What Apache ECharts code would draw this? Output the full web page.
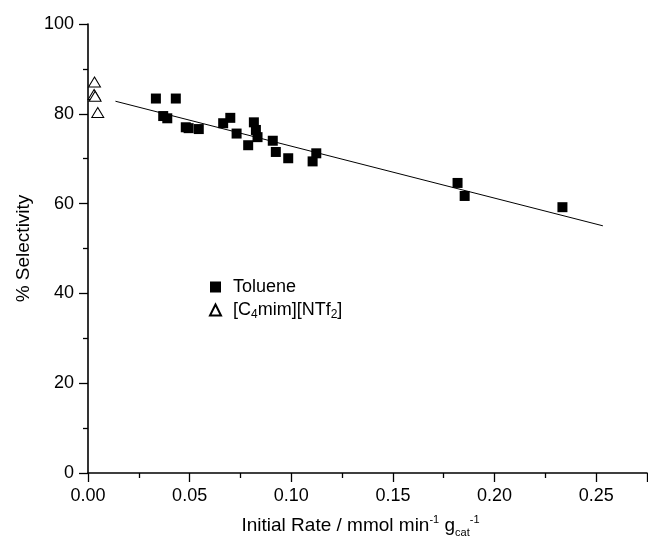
<!DOCTYPE html>
<html>
<head>
<meta charset="utf-8">
<script src="https://cdn.jsdelivr.net/npm/echarts@6/dist/echarts.min.js"></script>
<style>
  html, body { margin: 0; padding: 0; background: #fff; }
  #chart { width: 648px; height: 551px; }
</style>
</head>
<body>
<div id="chart"></div>
<script>
// Toluene runs: initial rate vs selectivity
const tolueneRate = [0.0334, 0.0432, 0.0370, 0.0390, 0.0481, 0.0495, 0.0545, 0.0665, 0.0700, 0.0731, 0.0788,
    0.0816, 0.0826, 0.0834, 0.0909, 0.0924, 0.0985, 0.1105, 0.1123, 0.1818, 0.1853, 0.2334];
const tolueneSel = [83.4, 83.4, 79.5, 79.0, 77.0, 76.8, 76.6, 77.9, 79.1, 75.6, 73.0,
    78.1, 76.4, 74.8, 74.0, 71.5, 70.1, 69.4, 71.2, 64.6, 61.7, 59.2];
// ionic liquid runs
const ilRate = [0.0032, 0.0030, 0.0035, 0.0048];
const ilSel = [87.1, 84.3, 83.9, 80.3];
// linear fit end points
const fitX = [0.0135, 0.2533];
const fitY = [82.8, 55.05];

const xTicks = { min: 0, max: 0.275, interval: 0.05 };
const yTicks = { min: 0, max: 100, interval: 20 };

const chart = echarts.init(document.getElementById('chart'));
const font = 'Liberation Sans, Arial, sans-serif';

const zip = (xs, ys) => xs.map((x, i) => [x, ys[i]]);

const axisCommon = {
    axisLine: { show: true, onZero: false, lineStyle: { color: '#000', width: 1.6 } },
    axisTick: { show: true, inside: false, length: 9, lineStyle: { color: '#000', width: 1.3 } },
    minorTick: { show: true, splitNumber: 2, length: 5, lineStyle: { color: '#000', width: 1.3 } },
    splitLine: { show: false },
    axisLabel: { color: '#000', fontSize: 18, fontFamily: font }
};

chart.setOption({
    animation: false,
    backgroundColor: '#fff',
    grid: { left: 88, right: 1, top: 24, bottom: 78 },
    legend: {
        orient: 'vertical',
        left: 204,
        top: 273,
        itemWidth: 11,
        itemHeight: 11,
        itemGap: 5,
        data: ['Toluene', 'IL'],
        textStyle: {
            color: '#000', fontSize: 18, fontFamily: font, padding: [0, 0, 0, 7],
            rich: {
                n: { fontSize: 18, fontFamily: font, color: '#000' },
                s: { fontSize: 12, fontFamily: font, color: '#000', verticalAlign: 'bottom', padding: [9, 0, 0, 0] }
            }
        },
        formatter: function (name) {
            if (name === 'IL') return '{n|[C}{s|4}{n|mim][NTf}{s|2}{n|]}';
            return name;
        }
    },
    xAxis: Object.assign({}, axisCommon, {
        type: 'value',
        min: xTicks.min,
        max: xTicks.max,
        interval: xTicks.interval,
        axisLabel: Object.assign({}, axisCommon.axisLabel, {
            margin: 14,
            showMaxLabel: false,
            formatter: v => v.toFixed(2)
        }),
        name: '{n|Initial Rate / mmol min}{sup|-1}{n| g}{sub|cat}{sup|-1}',
        nameLocation: 'middle',
        nameGap: 41,
        nameTextStyle: {
            padding: [0, 14, 0, 0],
            rich: {
                n: { fontSize: 19, fontFamily: font, color: '#000' },
                sup: { fontSize: 11, fontFamily: font, color: '#000', padding: [0, 0, 13, 0] },
                sub: { fontSize: 11, fontFamily: font, color: '#000', padding: [13, 0, 0, 0] }
            }
        }
    }),
    yAxis: Object.assign({}, axisCommon, {
        type: 'value',
        min: yTicks.min,
        max: yTicks.max,
        interval: yTicks.interval,
        axisLabel: Object.assign({}, axisCommon.axisLabel, { margin: 14 }),
        name: '% Selectivity',
        nameLocation: 'middle',
        nameGap: 47,
        nameTextStyle: { fontSize: 19, fontFamily: font, color: '#000' }
    }),
    series: [
        {
            name: 'fit',
            type: 'line',
            data: zip(fitX, fitY),
            showSymbol: false,
            lineStyle: { color: '#000', width: 1 },
            z: 1
        },
        {
            name: 'Toluene',
            type: 'scatter',
            data: zip(tolueneRate, tolueneSel),
            symbol: 'rect',
            symbolSize: 10,
            itemStyle: { color: '#000', opacity: 1 },
            z: 3
        },
        {
            name: 'IL',
            type: 'scatter',
            data: zip(ilRate, ilSel),
            symbol: 'triangle',
            symbolSize: [12, 10],
            itemStyle: { color: '#fff', borderColor: '#000', borderWidth: 1, opacity: 1 },
            z: 3
        }
    ]
});
</script>
</body>
</html>
